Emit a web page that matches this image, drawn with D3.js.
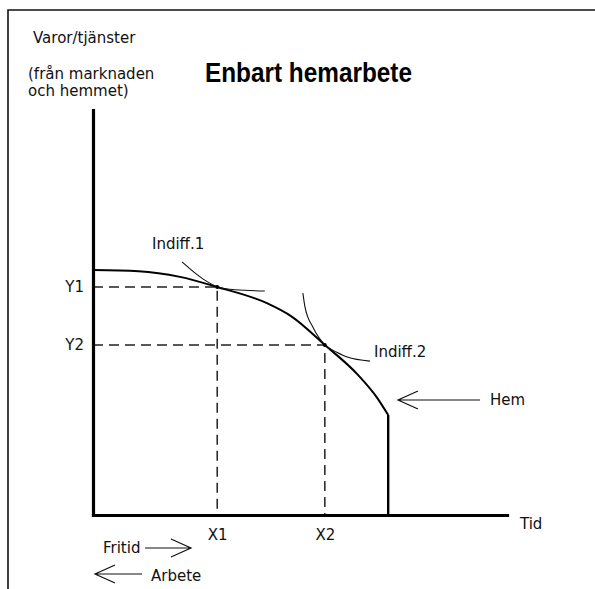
<!DOCTYPE html>
<html>
<head>
<meta charset="utf-8">
<script src="https://cdn.jsdelivr.net/npm/d3@7"></script>
<style>
	body { margin: 0; background: #fff; }
	text { font-family: "DejaVu Sans", sans-serif; fill: #111; }
</style>
</head>
<body>
<svg class="canvas"></svg>
<script>
// production possibility curve (time on x, goods on y)
const ppfCurve = [[0, 60.5], [11, 60.2], [21, 58.8], [30, 56.3], [42, 52.3], [48, 49], [56, 42], [64, 34.6], [68.6, 29], [71.3, 24.7]];
const ppfDrop = [[71.3, 24.7], [71.3, 0]];

const indiff1 = [[21.5, 62.5], [24.6, 59.8], [27, 58], [30.2, 56.3], [34.3, 55.6], [41.5, 55.3]];
const indiff2 = [[50.7, 54.8], [51.2, 51.4], [53.1, 46.4], [56, 42], [58.9, 40.2], [61.4, 39], [66.9, 38]];

const xTicks = [30, 56];
const xTickLabels = ["X1", "X2"];
const yTicks = [56.3, 42];
const yTickLabels = ["Y1", "Y2"];

const width = 595;
const height = 589;

const svg = d3.select(".canvas")
	.attr("width", width)
	.attr("height", height);

const x = d3.scaleLinear().domain([0, 100]).range([93, 507]);
const y = d3.scaleLinear().domain([0, 100]).range([515, 110]);

// frame (only top and left edges show)
svg.append("path")
	.attr("d", `M8,${height} V10 H${width}`)
	.attr("fill", "none")
	.attr("stroke", "#111")
	.attr("stroke-width", 1.6);

// dashed guides
xTicks.forEach((xv, i) => {
	const yv = yTicks[i];
	svg.append("path")
		.attr("d", `M${x(0)},${y(yv)} H${x(xv)} V${y(0)}`)
		.attr("fill", "none")
		.attr("stroke", "#222")
		.attr("stroke-width", 1.5)
		.attr("stroke-dasharray", "10,6");
});

// axes
const xAxis = d3.axisBottom(x)
	.tickValues(xTicks)
	.tickFormat((d, i) => xTickLabels[i])
	.tickSize(0)
	.tickSizeOuter(0)
	.tickPadding(14);

const yAxis = d3.axisLeft(y)
	.tickValues(yTicks)
	.tickFormat((d, i) => yTickLabels[i])
	.tickSize(0)
	.tickSizeOuter(0)
	.tickPadding(9);

[svg.append("g").attr("transform", `translate(0,${y(0)})`).call(xAxis),
 svg.append("g").attr("transform", `translate(${x(0)},0)`).call(yAxis)]
	.forEach(g => {
		g.select(".domain")
			.attr("stroke", "#000")
			.attr("stroke-width", 3.2)
			.attr("stroke-linecap", "square");
		g.selectAll("text")
			.style("font-family", "DejaVu Sans")
			.style("font-size", "15px")
			.attr("fill", "#111");
	});

// curves
const smooth = d3.line()
	.x(d => x(d[0]))
	.y(d => y(d[1]))
	.curve(d3.curveMonotoneX);

const straight = d3.line()
	.x(d => x(d[0]))
	.y(d => y(d[1]));

svg.append("path")
	.attr("d", smooth(ppfCurve))
	.attr("fill", "none")
	.attr("stroke", "#000")
	.attr("stroke-width", 2);

svg.append("path")
	.attr("d", straight(ppfDrop))
	.attr("fill", "none")
	.attr("stroke", "#000")
	.attr("stroke-width", 2.4);

[indiff1, indiff2].forEach(c => {
	svg.append("path")
		.attr("d", smooth(c))
		.attr("fill", "none")
		.attr("stroke", "#111")
		.attr("stroke-width", 1.1);
});

// tangency points
svg.selectAll(".dot")
	.data(xTicks.map((d, i) => [d, yTicks[i]]))
	.join("circle")
	.attr("cx", d => x(d[0]))
	.attr("cy", d => y(d[1]))
	.attr("r", 2)
	.attr("fill", "#000");

// open arrows
let arrow = (x1, x2, yy) => {
	const dir = x2 > x1 ? -1 : 1;
	svg.append("path")
		.attr("d", `M${x1},${yy} H${x2} M${x2 + dir * 20},${yy - 9} L${x2},${yy} L${x2 + dir * 20},${yy + 9}`)
		.attr("fill", "none")
		.attr("stroke", "#111")
		.attr("stroke-width", 1.2);
};

arrow(480, 398, 400);
arrow(145, 191, 548);
arrow(142, 95, 574);

// texts
const labels = [
	{ t: "Varor/tjänster", x: 33, y: 43 },
	{ t: "(från marknaden", x: 28, y: 79 },
	{ t: "och hemmet)", x: 28, y: 96 },
	{ t: "Indiff.1", x: 152, y: 249 },
	{ t: "Indiff.2", x: 374, y: 357 },
	{ t: "Hem", x: 490, y: 405 },
	{ t: "Tid", x: 520, y: 529 },
	{ t: "Fritid", x: 103, y: 553 },
	{ t: "Arbete", x: 151, y: 581 }
];

svg.selectAll(".lbl")
	.data(labels)
	.join("text")
	.attr("class", "lbl")
	.attr("x", d => d.x)
	.attr("y", d => d.y)
	.style("font-size", "15px")
	.text(d => d.t);

svg.append("text")
	.attr("x", 205)
	.attr("y", 82)
	.attr("textLength", 207)
	.attr("lengthAdjust", "spacingAndGlyphs")
	.style("font-family", "Liberation Sans")
	.style("font-weight", "bold")
	.style("font-size", "28px")
	.style("fill", "#000")
	.text("Enbart hemarbete");
</script>
</body>
</html>
